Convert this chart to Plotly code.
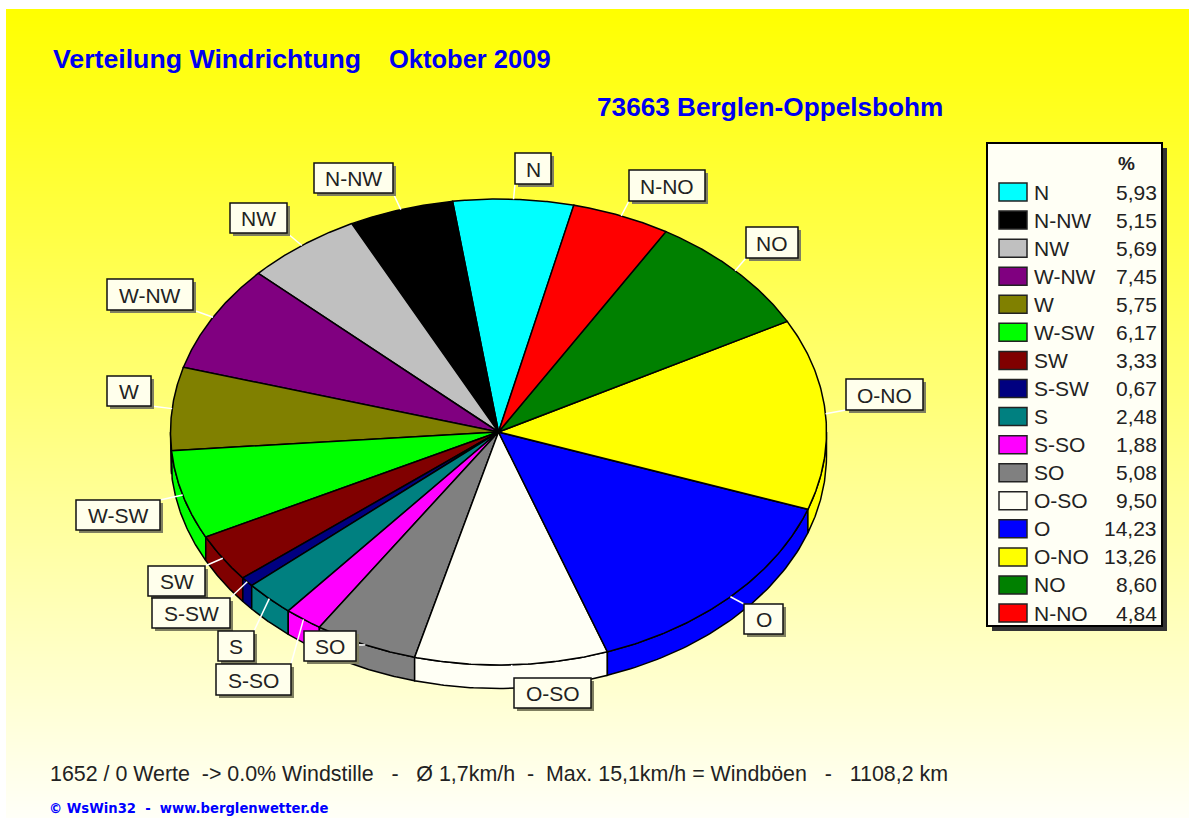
import numpy as np
import plotly.graph_objects as go

# ---- data ----
directions = ["N", "N-NW", "NW", "W-NW", "W", "W-SW", "SW", "S-SW", "S", "S-SO", "SO", "O-SO", "O", "O-NO", "NO", "N-NO"]
percent = [5.93, 5.15, 5.69, 7.45, 5.75, 6.17, 3.33, 0.67, 2.48, 1.88, 5.08, 9.50, 14.23, 13.26, 8.60, 4.84]
percent_text = ["5,93", "5,15", "5,69", "7,45", "5,75", "6,17", "3,33", "0,67", "2,48", "1,88", "5,08", "9,50", "14,23", "13,26", "8,60", "4,84"]

# ---- styles ----
colors = ["#00FFFF", "#000000", "#C0C0C0", "#800080", "#808000", "#00FF00", "#800000", "#000080",
          "#008080", "#FF00FF", "#808080", "#FFFFF5", "#0000FF", "#FFFF00", "#008000", "#FF0000"]
# label boxes (left, top, right, bottom) in canvas units
boxes = {
    "N": (515, 153, 551, 184), "N-NW": (314, 163, 393, 193), "NW": (230, 203, 287, 233),
    "W-NW": (107, 279, 193, 310), "W": (107, 376, 151, 406), "W-SW": (76, 500, 160, 530),
    "SW": (148, 566, 205, 596), "S-SW": (152, 598, 230, 628), "S": (218, 631, 254, 661),
    "S-SO": (216, 664, 291, 695), "SO": (304, 631, 356, 661), "O-SO": (514, 678, 591, 708),
    "O": (744, 604, 783, 634), "O-NO": (846, 379, 923, 410), "NO": (746, 227, 798, 258),
    "N-NO": (629, 170, 705, 201),
}
CX, CY, A, B, DEPTH = 498.5, 432, 328, 233, 23.5
START = 13.3
FONT = "Liberation Sans"
TXT = "#222222"
BLUE = "#0000FF"
PANEL = "#FFFFEC"

def ell(t, dy=0):
    r = np.radians(t)
    return CX + A * np.sin(r), CY - B * np.cos(r) + dy

# slice angles (clockwise from top), legend order runs counter-clockwise
ends = START - np.cumsum(percent) * 3.6
starts = np.concatenate([[START], ends[:-1]])

fig = go.Figure()
fig.add_trace(go.Heatmap(x=[6, 1189], y=[9, 818], z=[[0, 0], [1, 1]], zsmooth="best", showscale=False,
                         colorscale=[[0, "#FFFF00"], [1, "#FFFFF8"]], hoverinfo="skip"))

# rim (only the front half of the ellipse is visible)
for s, e, c in zip(starts, ends, colors):
    lo, hi = e % 360, (e % 360) + (s - e)
    for shift in (0, 360, -360):
        a0, a1 = max(lo + shift, 90), min(hi + shift, 270)
        if a1 > a0:
            t = np.linspace(a0, a1, 60)
            x0, y0 = ell(t)
            x1, y1 = ell(t[::-1], DEPTH)
            fig.add_trace(go.Scatter(x=np.r_[x0, x1, x0[0]], y=np.r_[y0, y1, y0[0]], mode="lines", fill="toself",
                                     fillcolor=c, line=dict(color="#000000", width=1.5), hoverinfo="skip", showlegend=False))

# top surface
for d, s, e, c in zip(directions, starts, ends, colors):
    t = np.linspace(s, e, 90)
    x, y = ell(t)
    fig.add_trace(go.Scatter(x=np.r_[CX, x, CX], y=np.r_[CY, y, CY], mode="lines", fill="toself", fillcolor=c,
                             line=dict(color="#000000", width=1.5), name=d, hoverinfo="skip", showlegend=False))

shapes, ann = [], []

def text(x, y, s, size=21, color=TXT, anchor="left", bold=False, family=FONT):
    ann.append(dict(x=x, y=y, text=f"<b>{s}</b>" if bold else s, showarrow=False, xanchor=anchor, yanchor="middle",
                    font=dict(family=family, size=size, color=color)))

def rect(x0, y0, x1, y1, fill, line=None, w=0):
    shapes.append(dict(type="rect", x0=x0, y0=y0, x1=x1, y1=y1, fillcolor=fill, layer="above",
                       line=dict(color=line or fill, width=w)))

# white page frame around the gradient panel
rect(0, 0, 6, 818, "#FFFFFF")
rect(0, 0, 1189, 9, "#FFFFFF")

# leader lines and label boxes
for d, s, e in zip(directions, starts, ends):
    l, tp, r, b = boxes[d]
    px, py = ell((s + e) / 2)
    qx, qy = min(max(px, l), r), min(max(py, tp), b)
    shapes.append(dict(type="line", x0=px, y0=py, x1=qx, y1=qy, layer="above", line=dict(color="#FFFFFF", width=1.5)))
for d in directions:
    l, tp, r, b = boxes[d]
    rect(l + 3, tp + 3, r + 3, b + 3, "#7F7F60")
    rect(l, tp, r, b, PANEL, "#111111", 1.5)
    text((l + r) / 2, (tp + b) / 2 + 0.5, d, anchor="center")

# legend panel
rect(992, 148, 1167, 631, "#333333")
rect(987, 143, 1162, 626, "#FFFFF5", "#000000", 2)
text(1126, 163, "%", size=19, bold=True, anchor="center")
for i, (d, v, c) in enumerate(zip(directions, percent_text, colors)):
    y = 192 + i * 28.07
    rect(999, y - 9, 1027, y + 9, c, "#222222", 1.5)
    text(1032, y, d)
    text(1159, y, v, anchor="right")

# titles and footer
text(51, 59, "Verteilung Windrichtung", size=26.7, color="#0000F0", bold=True)
text(387, 59, "Oktober 2009", size=25.5, color="#0000F0", bold=True)
text(595, 107, "73663 Berglen-Oppelsbohm", size=26.2, color="#0000F0", bold=True)
text(48, 774, "1652 / 0 Werte\u00a0\u00a0-&gt; 0.0% Windstille\u00a0\u00a0\u00a0-\u00a0\u00a0\u00a0Ø 1,7km/h\u00a0\u00a0-\u00a0\u00a0Max. 15,1km/h = Windböen\u00a0\u00a0\u00a0-\u00a0\u00a0\u00a01108,2 km", size=21.4)
text(47, 808, "© WsWin32\u00a0\u00a0-\u00a0\u00a0www.berglenwetter.de", size=13.2, color=BLUE, bold=True, family="DejaVu Sans")

fig.update_layout(width=1189, height=818, autosize=False, margin=dict(l=0, r=0, t=0, b=0),
                  paper_bgcolor="#FFFFFF", plot_bgcolor="#FFFFFF", showlegend=False,
                  shapes=shapes, annotations=ann,
                  xaxis=dict(range=[0, 1189], visible=False, fixedrange=True),
                  yaxis=dict(range=[818, 0], visible=False, fixedrange=True))
fig.write_html("out.html", config=dict(displayModeBar=False),
               post_script="document.body.style.margin='0';")
